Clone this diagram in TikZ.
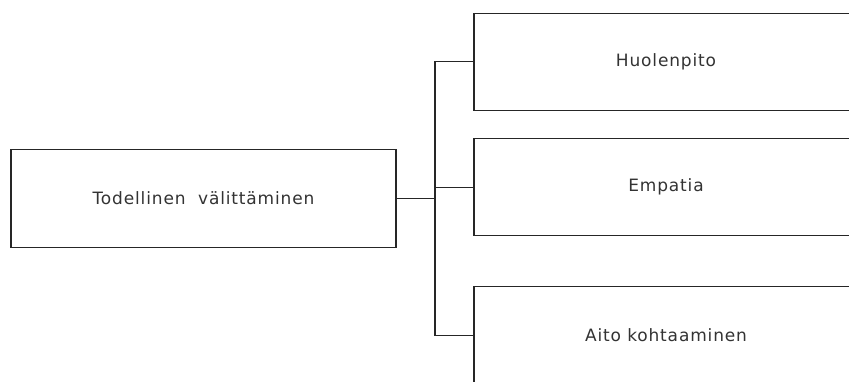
\documentclass[tikz,border=0pt]{standalone}
\usepackage{fontspec}
\setmainfont[LetterSpace=5]{DejaVu Sans}
\begin{document}
\begin{tikzpicture}[x=1pt,y=-1pt,
  box/.style={draw=black!85, line width=1.3pt, fill=white, inner sep=0pt,
    font=\fontsize{17}{20}\selectfont, text=black!80},
  leftbox/.style={box, minimum width=385pt, minimum height=97.5pt},
  rightbox/.style={box, minimum width=384pt, minimum height=97pt},
  link/.style={draw=black!85, line width=1.3pt}]
\useasboundingbox (0,0) rectangle (849,381);
\clip (0,0) rectangle (849,381);
\node[leftbox] (root) at (203.5,198.5) {Todellinen\ \ välittäminen};
\node[rightbox] (care) at (666,61.7) {Huolenpito};
\node[rightbox] (emp) at (666,187.2) {Empatia};
\node[rightbox] (meet) at (666,335.2) {Aito kohtaaminen};
\coordinate (bus) at (435,198.5);
\draw[link] (root.east) -- (bus);
\draw[link] (bus) |- (care.west);
\draw[link] (bus) |- (emp.west);
\draw[link] (bus) |- (meet.west);
\end{tikzpicture}
\end{document}
